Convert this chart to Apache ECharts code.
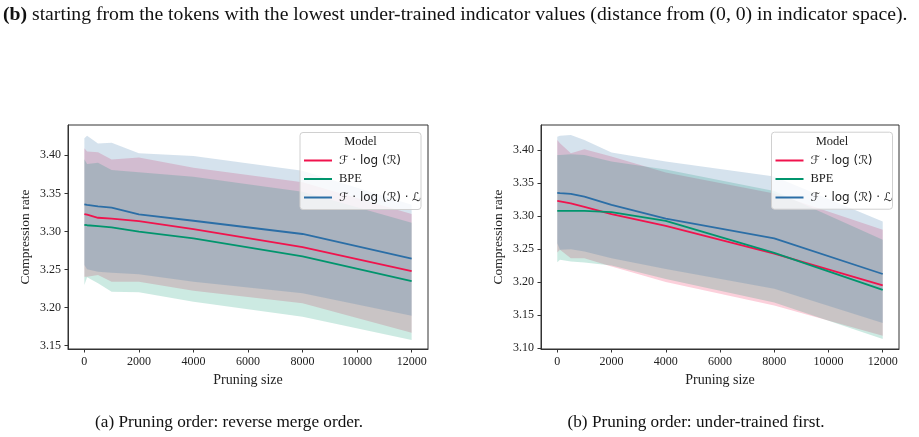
<!DOCTYPE html>
<html>
<head>
<meta charset="utf-8">
<script src="https://cdn.jsdelivr.net/npm/echarts@6/dist/echarts.min.js"></script>
<style>
  html, body { margin: 0; padding: 0; background: #fff; }
  #chart { width: 919px; height: 437px; }
</style>
</head>
<body>
<div id="chart"></div>
<script>
// pruning sizes
var pruneSizes = [0, 100, 500, 1000, 2000, 4000, 8000, 12000];
var xTicks = [0, 2000, 4000, 6000, 8000, 10000, 12000];
var yTicksA = [3.15, 3.20, 3.25, 3.30, 3.35, 3.40];
var yTicksB = [3.10, 3.15, 3.20, 3.25, 3.30, 3.35, 3.40];

var seriesNames = ['F·log(R)', 'BPE', 'F·log(R)·L'];

// (a) reverse merge order
var aRedMean   = [3.3229, 3.3220, 3.3180, 3.3168, 3.3137, 3.3032, 3.2796, 3.2480];
var aRedLo     = [3.2406, 3.2406, 3.2428, 3.2341, 3.2341, 3.2222, 3.2057, 3.1670];
var aRedHi     = [3.4092, 3.4050, 3.4040, 3.3945, 3.3972, 3.3837, 3.3645, 3.3230];
var aGreenMean = [3.3088, 3.3082, 3.3070, 3.3055, 3.2997, 3.2910, 3.2674, 3.2349];
var aGreenLo   = [3.2297, 3.2400, 3.2320, 3.2209, 3.2201, 3.2078, 3.1880, 3.1575];
var aGreenHi   = [3.3947, 3.3886, 3.3903, 3.3807, 3.3777, 3.3719, 3.3522, 3.3115];
var aBlueMean  = [3.3356, 3.3350, 3.3330, 3.3312, 3.3225, 3.3141, 3.2967, 3.2643];
var aBlueLo    = [3.2560, 3.2503, 3.2472, 3.2459, 3.2437, 3.2340, 3.2188, 3.1894];
var aBlueHi    = [3.4223, 3.4257, 3.4155, 3.4166, 3.4026, 3.3990, 3.3798, 3.3350];

// (b) under-trained first
var bRedMean   = [3.3228, 3.3222, 3.3190, 3.3138, 3.3027, 3.2850, 3.2430, 3.1948];
var bRedLo     = [3.2447, 3.2490, 3.2361, 3.2360, 3.2235, 3.1998, 3.1645, 3.1186];
var bRedHi     = [3.4151, 3.4100, 3.3950, 3.4010, 3.3899, 3.3660, 3.3340, 3.2790];
var bGreenMean = [3.3077, 3.3077, 3.3077, 3.3077, 3.3057, 3.2926, 3.2440, 3.1880];
var bGreenLo   = [3.2300, 3.2336, 3.2310, 3.2296, 3.2250, 3.2044, 3.1690, 3.1136];
var bGreenHi   = [3.3924, 3.3924, 3.3934, 3.3924, 3.3824, 3.3705, 3.3380, 3.2638];
var bBlueMean  = [3.3349, 3.3345, 3.3334, 3.3294, 3.3168, 3.2961, 3.2660, 3.2121];
var bBlueLo    = [3.2588, 3.2487, 3.2497, 3.2462, 3.2361, 3.2195, 3.1897, 3.1378];
var bBlueHi    = [3.4200, 3.4216, 3.4226, 3.4151, 3.3960, 3.3824, 3.3597, 3.2916];

var red = '#f0134d', green = '#00956d', blue = '#2b6ea6';
var serif = 'Liberation Serif';

function rgba(hex, a) {
  var n = parseInt(hex.slice(1), 16);
  return 'rgba(' + (n >> 16 & 255) + ',' + (n >> 8 & 255) + ',' + (n & 255) + ',' + a + ')';
}

function band(gi, lo, hi, color) {
  return {
    type: 'custom', xAxisIndex: gi, yAxisIndex: gi, silent: true, z: 1,
    data: pruneSizes.map(function(x, i) { return [x, lo[i], hi[i]]; }),
    encode: { x: 0, y: [1, 2] },
    renderItem: function(params, api) {
      if (params.dataIndex !== 0) return null;
      var pts = [];
      for (var i = 0; i < pruneSizes.length; i++) pts.push(api.coord([pruneSizes[i], hi[i]]));
      for (var j = pruneSizes.length - 1; j >= 0; j--) pts.push(api.coord([pruneSizes[j], lo[j]]));
      return { type: 'polygon', shape: { points: pts }, style: { fill: rgba(color, 0.2) } };
    }
  };
}

function line(gi, name, vals, color) {
  return {
    type: 'line', name: name, xAxisIndex: gi, yAxisIndex: gi, z: 3,
    data: pruneSizes.map(function(x, i) { return [x, vals[i]]; }),
    showSymbol: false, silent: true,
    lineStyle: { color: color, width: 1.8 },
    itemStyle: { color: color }
  };
}

function xAxis(gi) {
  return {
    type: 'value', gridIndex: gi, min: -600, max: 12600,
    name: 'Pruning size', nameLocation: 'middle', nameGap: 22,
    nameTextStyle: { fontFamily: serif, fontSize: 14, color: '#222' },
    axisLine: { show: true, onZero: false, lineStyle: { color: '#333', width: 1 } },
    axisTick: { show: true, length: 3.5, lineStyle: { color: '#333' }, customValues: xTicks },
    axisLabel: {
      fontFamily: serif, fontSize: 12, color: '#222', margin: 7, customValues: xTicks,
      formatter: function(v) { return String(v); }
    },
    splitLine: { show: false }
  };
}

function yAxis(gi, min, max, ticks) {
  return {
    type: 'value', gridIndex: gi, min: min, max: max,
    name: 'Compression rate', nameLocation: 'middle', nameGap: 36,
    nameTextStyle: { fontFamily: serif, fontSize: 13.5, color: '#222' },
    axisLine: { show: true, onZero: false, lineStyle: { color: '#333', width: 1 } },
    axisTick: { show: true, length: 3.5, lineStyle: { color: '#333' }, customValues: ticks },
    axisLabel: {
      fontFamily: serif, fontSize: 12, color: '#222', margin: 7, customValues: ticks,
      formatter: function(v) { return v.toFixed(2); }
    },
    splitLine: { show: false }
  };
}

var legendText = {
  'F·log(R)': '{c|ℱ}{s| · log (}{c|ℛ}{s|)}',
  'BPE': '{t|BPE}',
  'F·log(R)·L': '{c|ℱ}{s| · log (}{c|ℛ}{s|) · }{c|ℒ}'
};

function legend(left, top) {
  return {
    left: left, top: top, orient: 'vertical', itemGap: 4.5, z: 120,
    itemWidth: 28, itemHeight: 2, icon: 'rect', padding: 0,
    selectedMode: false, data: seriesNames,
    formatter: function(n) { return legendText[n]; },
    textStyle: {
      color: '#222', lineHeight: 14, padding: [0, 0, 0, 2],
      rich: {
        c: { fontFamily: 'DejaVu Sans', fontStyle: 'italic', fontSize: 12, lineHeight: 14 },
        s: { fontFamily: 'DejaVu Sans', fontSize: 12, lineHeight: 14 },
        t: { fontFamily: serif, fontSize: 12.5, lineHeight: 14 }
      }
    }
  };
}

function legendBox(x, y) {
  return [
    { type: 'rect', z: 100, shape: { x: x, y: y, width: 121, height: 77, r: 3 },
      style: { fill: 'rgba(255,255,255,0.8)', stroke: '#d0d0d0', lineWidth: 1 } },
    { type: 'text', z: 110, x: x + 60.5, y: y + 9.5,
      style: { text: 'Model', fontFamily: serif, fontSize: 12.5, fill: '#222', align: 'center', verticalAlign: 'middle' } }
  ];
}

var chart = echarts.init(document.getElementById('chart'));
var option = {
  backgroundColor: '#fff',
  animation: false,
  grid: [
    { left: 68, top: 125, width: 360, height: 224, show: true, borderColor: '#333', borderWidth: 1, backgroundColor: 'transparent' },
    { left: 541, top: 125, width: 358, height: 224, show: true, borderColor: '#333', borderWidth: 1, backgroundColor: 'transparent' }
  ],
  xAxis: [xAxis(0), xAxis(1)],
  yAxis: [yAxis(0, 3.1457, 3.4398, yTicksA), yAxis(1, 3.0985, 3.4378, yTicksB)],
  legend: [legend(304, 153.5), legend(775.5, 153.5)],
  graphic: legendBox(300, 132.5).concat(legendBox(771.5, 132.2)).concat([
    { type: 'text', x: 3, y: 15, z: 100,
      style: {
        text: '{b|(b)}{n| starting from the tokens with the lowest under-trained indicator values (distance from (0, 0) in indicator space).}',
        verticalAlign: 'middle', fill: '#111',
        rich: {
          b: { fontFamily: serif, fontSize: 19.7, fontWeight: 'bold' },
          n: { fontFamily: serif, fontSize: 19.7 }
        }
      } },
    { type: 'text', x: 229, y: 422, z: 100,
      style: { text: '(a) Pruning order: reverse merge order.', fontFamily: serif, fontSize: 17.2, fill: '#111', align: 'center', verticalAlign: 'middle' } },
    { type: 'text', x: 696, y: 422, z: 100,
      style: { text: '(b) Pruning order: under-trained first.', fontFamily: serif, fontSize: 17.2, fill: '#111', align: 'center', verticalAlign: 'middle' } }
  ]),
  series: [
    band(0, aRedLo, aRedHi, red),
    band(0, aGreenLo, aGreenHi, green),
    band(0, aBlueLo, aBlueHi, blue),
    line(0, seriesNames[0], aRedMean, red),
    line(0, seriesNames[1], aGreenMean, green),
    line(0, seriesNames[2], aBlueMean, blue),
    band(1, bRedLo, bRedHi, red),
    band(1, bGreenLo, bGreenHi, green),
    band(1, bBlueLo, bBlueHi, blue),
    line(1, seriesNames[0], bRedMean, red),
    line(1, seriesNames[1], bGreenMean, green),
    line(1, seriesNames[2], bBlueMean, blue)
  ]
};
chart.setOption(option);
</script>
</body>
</html>
